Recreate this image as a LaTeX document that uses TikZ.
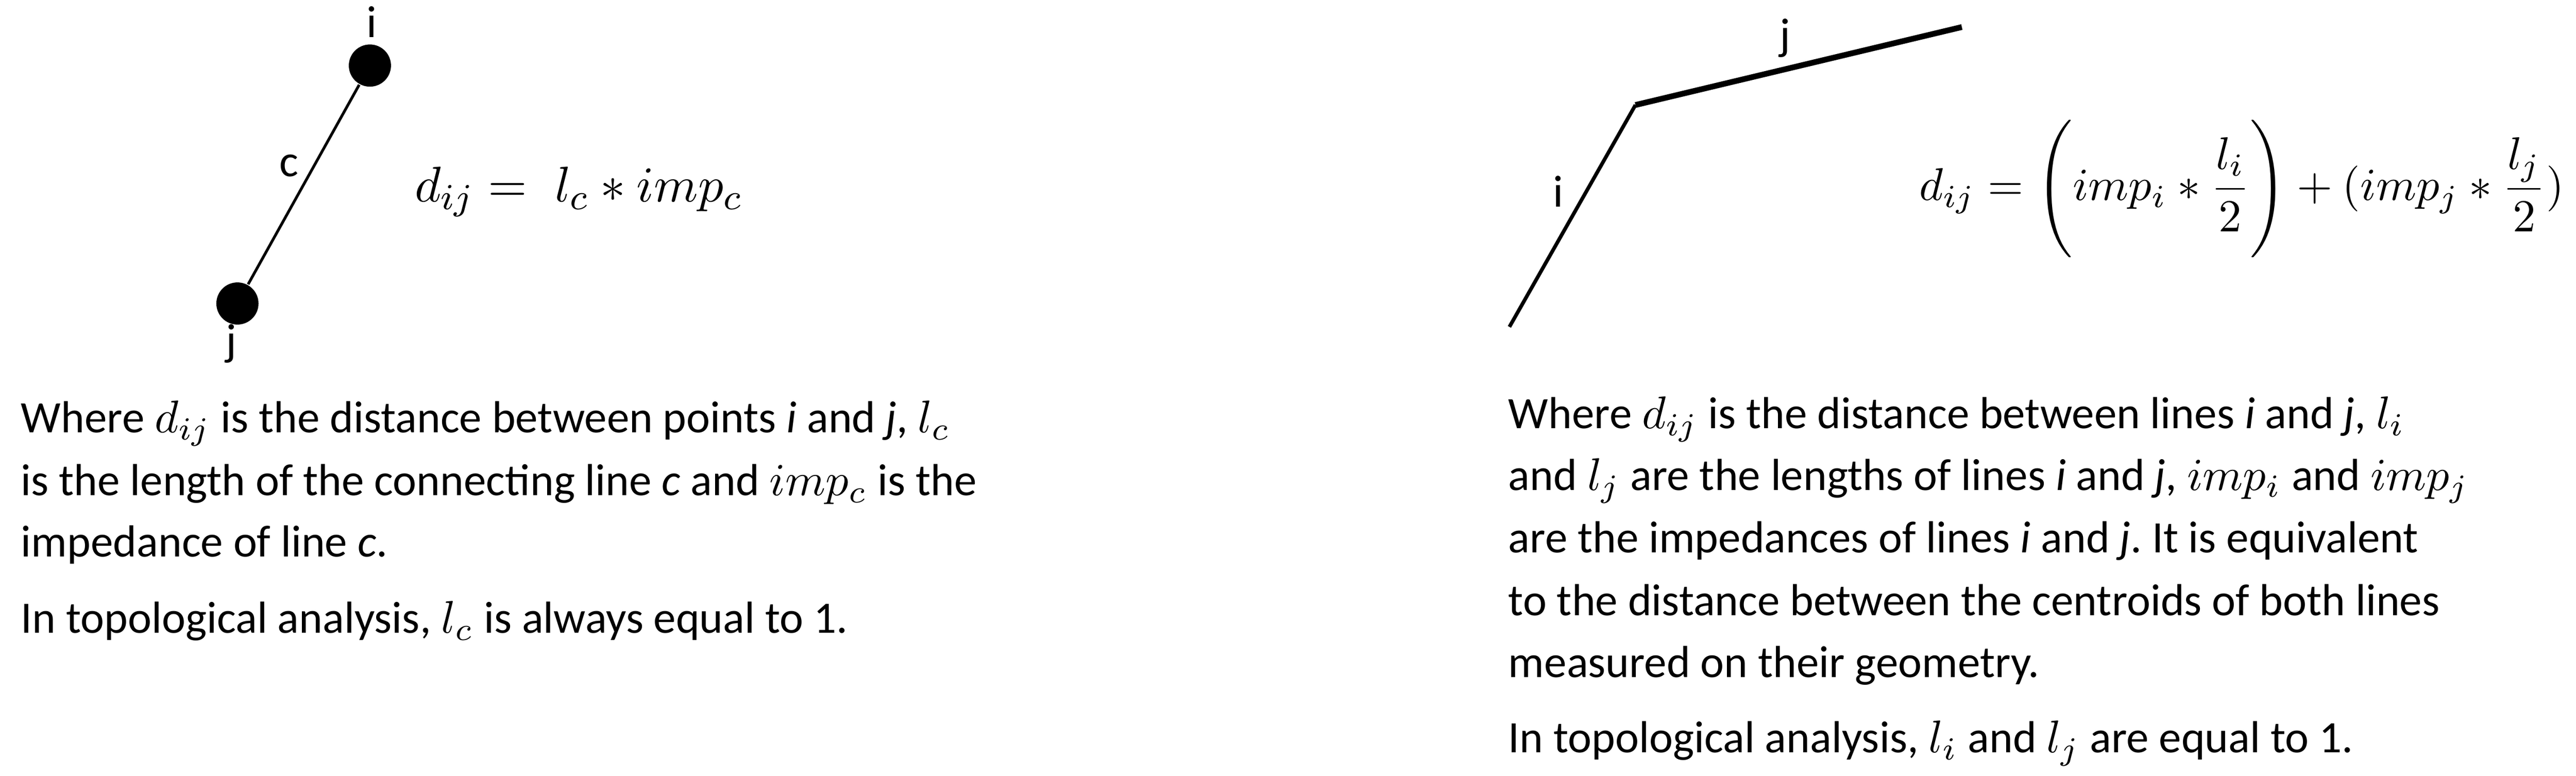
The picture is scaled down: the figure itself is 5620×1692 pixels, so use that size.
\documentclass[tikz,border=0pt]{standalone}
\usepackage{amsmath}
\usepackage[no-math]{fontspec}
\setmainfont{Carlito}
\frenchspacing
\begin{document}
\begin{tikzpicture}[x=0.1pt,y=-0.1pt,
  txt/.style={anchor=base west,inner sep=0pt,font=\fontsize{9.8pt}{11pt}\selectfont},
  lbl/.style={anchor=base,inner sep=0pt,font=\fontsize{9.8pt}{11pt}\selectfont},
  dot/.style={circle,fill=black,inner sep=0pt,minimum size=9.2pt},
  eqleft/.style={anchor=base west,inner sep=0pt,font=\fontsize{11.3pt}{13pt}\selectfont},
  eqright/.style={anchor=base west,inner sep=0pt,font=\fontsize{9.6pt}{11pt}\selectfont}]
\useasboundingbox (0,0) rectangle (5620,1692);
% ---- left panel
\node[dot] (ni) at (807,143) {};
\node[dot] (nj) at (518,662) {};
\draw[line width=0.6pt] (ni) -- (nj);
\node[lbl] (li) at (811,81) {i};
\node[lbl] (lj) at (505,775) {j};
\node[lbl] (lc) at (631,385) {c};
\node[eqleft] (eq1) at (903,440) {$d_{ij} =\; l_c \ast imp_c$};
\node[txt] (t1) at (44,944) {Where $d_{ij}$ is the distance between points \textit{i} and \textit{j}, $l_c$};
\node[txt] (t2) at (44,1081) {is the length of the connecting line \textit{c} and $imp_c$ is the};
\node[txt] (t3) at (44,1214) {impedance of line \textit{c}.};
\node[txt] (t4) at (44,1381) {In topological analysis, $l_c$ is always equal to 1.};
% ---- right panel
\coordinate (pa) at (3293,713);
\coordinate (pb) at (3568,229);
\coordinate (pc) at (4280,59);
\draw[line width=0.8pt] (pa) -- (pb);
\draw[line width=1.25pt] (pb) -- (pc);
\node[lbl] (ri) at (3400,451) {i};
\node[lbl] (rj) at (3895,108) {j};
\node[eqright] (eq2) at (4185,437) {$d_{ij} = \Bigg(imp_i \ast \dfrac{l_i}{2}\Bigg) + (imp_j \ast \dfrac{l_j}{2})$};
\node[txt] (s1) at (3289,935) {Where $d_{ij}$ is the distance between lines \textit{i} and \textit{j}, $l_i$};
\node[txt] (s2) at (3289,1069) {and $l_j$ are the lengths of lines \textit{i} and \textit{j}, $imp_i$ and $imp_j$};
\node[txt] (s3) at (3289,1206) {are the impedances of lines \textit{i} and \textit{j}. It is equivalent};
\node[txt] (s4) at (3289,1343) {to the distance between the centroids of both lines};
\node[txt] (s5) at (3289,1477) {measured on their geometry.};
\node[txt] (s6) at (3289,1642) {In topological analysis, $l_i$ and $l_j$ are equal to 1.};
\end{tikzpicture}
\end{document}
